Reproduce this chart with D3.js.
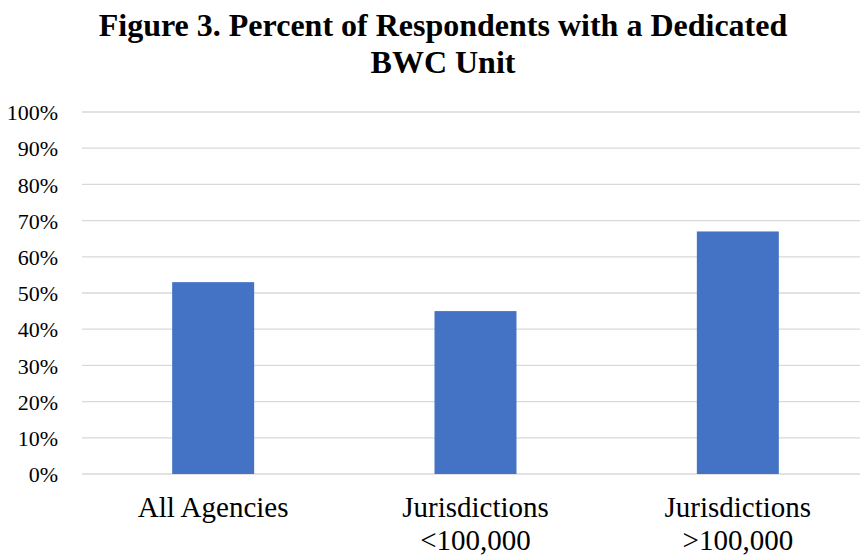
<!DOCTYPE html>
<html><head><meta charset="utf-8">
<script src="https://cdn.jsdelivr.net/npm/d3@7"></script>
<style>body{margin:0;background:#fff;} svg{display:block;}</style>
</head><body>
<svg id="chart" width="860" height="558"></svg>
<script>
const categories = [["All Agencies"], ["Jurisdictions", "<100,000"], ["Jurisdictions", ">100,000"]];
const values = [53, 45, 67];
const tickValues = [0, 10, 20, 30, 40, 50, 60, 70, 80, 90, 100];
const titleLines = ["Figure 3. Percent of Respondents with a Dedicated", "BWC Unit"];

const svg = d3.select("#chart");
const plotLeft = 82, plotRight = 869, plotTop = 112, plotBottom = 474;
const serif = "'Liberation Serif', 'Times New Roman', serif";

const x = d3.scaleBand().domain(d3.range(categories.length)).range([plotLeft, plotRight]).paddingInner(0.6875).paddingOuter(0.34375);
const y = d3.scaleLinear().domain([0, 100]).range([plotBottom, plotTop]);

// gridlines
svg.append("g").selectAll("line").data(tickValues).join("line")
  .attr("x1", plotLeft).attr("x2", plotRight)
  .attr("y1", d => y(d)).attr("y2", d => y(d))
  .attr("stroke", "#D9D9D9").attr("stroke-width", 1.3);

// y axis labels
const yAxis = d3.axisLeft(y).tickValues(tickValues).tickFormat(d => d + "%").tickSize(0).tickPadding(0);
const yg = svg.append("g").attr("transform", `translate(${58},0)`).call(yAxis);
yg.select(".domain").remove();
yg.selectAll("text").attr("font-family", serif).attr("font-size", 22).attr("fill", "#000").attr("dy", "0.35em");

// bars
svg.append("g").selectAll("rect").data(values).join("rect")
  .attr("x", (d, i) => x(i)).attr("width", x.bandwidth())
  .attr("y", d => y(d)).attr("height", d => y(0) - y(d))
  .attr("fill", "#4472C4");

// category labels
const xAxis = d3.axisBottom(x).tickSize(0).tickFormat(() => "");
const xg = svg.append("g").attr("transform", `translate(0,${plotBottom})`).call(xAxis);
xg.select(".domain").remove();
xg.selectAll(".tick").each(function(i) {
  const t = d3.select(this).select("text").text(null)
    .attr("font-family", serif).attr("font-size", 29).attr("fill", "#000")
    .attr("text-anchor", "middle").attr("y", 0).attr("dy", null);
  categories[i].forEach((line, k) => {
    t.append("tspan").attr("x", 0).attr("y", 43 + k * 33).text(line);
  });
});

// title
const title = svg.append("text").attr("font-family", serif).attr("font-size", 32).attr("font-weight", "bold")
  .attr("text-anchor", "middle").attr("fill", "#000");
titleLines.forEach((l, k) => title.append("tspan").attr("x", 443).attr("y", 36 + k * 37).text(l));
</script>
</body></html>
